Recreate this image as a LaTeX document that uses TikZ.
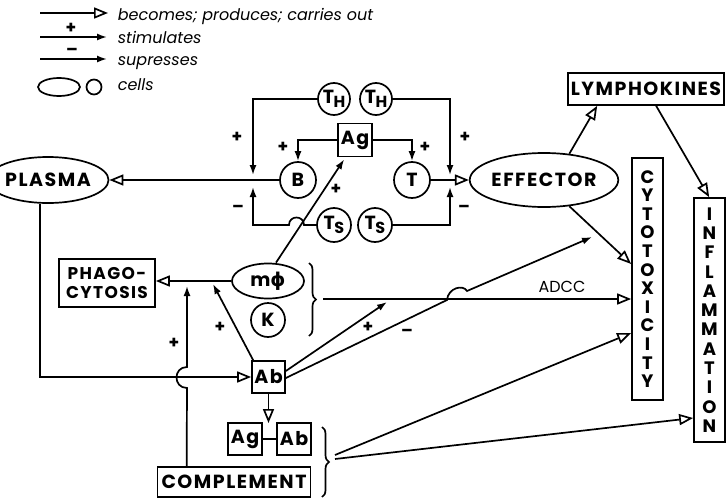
\documentclass[tikz,border=0pt]{standalone}
\usepackage{fontspec}
\setmainfont{Poppins}
\newfontfamily\lblf{Poppins}[LetterSpace=8]
\newfontfamily\dejavu{DejaVu Sans}
\usetikzlibrary{arrows.meta,shapes.geometric,decorations.pathreplacing,calc}
\newcommand{\subT}[1]{T\kern-0.5pt\raisebox{-4pt}{\fontsize{16}{16}\selectfont #1}}
\begin{document}
\begin{tikzpicture}[x=1pt,y=-1pt,
  line width=1.7pt,
  lbl/.style={font=\lblf\fontsize{19}{19}\selectfont\bfseries, inner sep=0pt},
  cellc/.style={draw, circle, lbl, minimum size=#1},
  celle/.style={draw, ellipse, lbl},
  boxn/.style={draw, rectangle, lbl},
  prod/.style={-{Triangle[open,length=14pt,width=11pt]}},
  stim/.style={-{Latex[length=10pt,width=7pt]}},
  sign/.style={font=\fontsize{17}{17}\selectfont\bfseries, inner sep=0pt},
  legtxt/.style={font=\fontsize{16}{16}\selectfont\itshape, anchor=base west, inner sep=0pt},
  brc/.style={decorate, decoration={brace, amplitude=7pt}},
]
\useasboundingbox (0,0) rectangle (726,498);

% legend
\coordinate (l1a) at (40,13); \coordinate (l1b) at (108,13);
\draw[prod] (l1a) -- (l1b);
\node[legtxt] (l1t) at (117,20) {becomes; produces; carries out};
\node[sign] (l2s) at (71,28) {+};
\coordinate (l2a) at (40,37); \coordinate (l2b) at (107,37);
\draw[stim] (l2a) -- (l2b);
\node[legtxt] (l2t) at (117,43) {stimulates};
\node[sign] (l3s) at (72,52) {–};
\coordinate (l3a) at (40,59); \coordinate (l3b) at (107,59);
\draw[stim] (l3a) -- (l3b);
\node[legtxt] (l3t) at (117,65) {supresses};
\node[draw, ellipse, minimum width=42, minimum height=18, inner sep=0pt] (l4e) at (59,87) {};
\node[draw, circle, minimum size=15, inner sep=0pt] (l4c) at (94,87) {};
\node[legtxt] (l4t) at (117,90) {cells};

% cells and boxes
\node[cellc=32] (th1) at (334,99) {\subT{H}};
\node[cellc=32] (th2) at (376,99) {\subT{H}};
\node[boxn, minimum width=34, minimum height=33] (ag) at (355,140) {Ag};
\node[cellc=36] (b) at (298,180) {B};
\node[cellc=36] (t) at (412,180) {T};
\node[cellc=34] (ts1) at (334,225) {\subT{S}};
\node[cellc=34] (ts2) at (375,225) {\subT{S}};
\node[celle, minimum width=88, minimum height=46] (plasma) at (48,180) {PLASMA};
\node[celle, minimum width=110, minimum height=54] (eff) at (544,180) {EFFECTOR};
\node[celle, minimum width=72, minimum height=35] (mphi) at (268,281) {m{\dejavu\bfseries ϕ}};
\node[cellc=34] (k) at (268,320) {K};
\node[boxn, minimum width=96, minimum height=48, align=center, font=\lblf\fontsize{17}{19}\selectfont\bfseries] (phago) at (107,283) {PHAGO-\\CYTOSIS};
\node[boxn, minimum width=33, minimum height=32] (ab) at (268.5,377) {Ab};
\node[boxn, minimum width=34, minimum height=32] (ag2) at (245,439) {Ag};
\node[boxn, minimum width=34, minimum height=32] (ab2) at (294,439) {Ab};
\node[boxn, minimum width=153, minimum height=30] (compl) at (234,482) {COMPLEMENT};
\node[boxn, minimum width=156, minimum height=32] (lymph) at (646,89) {LYMPHOKINES};
\node[boxn, minimum width=31, minimum height=242, align=center, font=\fontsize{18}{18.6}\selectfont\bfseries] (cyto) at (647.5,279) {C\\Y\\T\\O\\T\\O\\X\\I\\C\\I\\T\\Y};
\node[boxn, minimum width=31, minimum height=244, align=center, font=\fontsize{18}{19.3}\selectfont\bfseries] (infl) at (709.5,320) {I\\N\\F\\L\\A\\M\\M\\A\\T\\I\\O\\N};

% T-helper and T-suppressor loops
\coordinate (jl) at (253,180);
\coordinate (jr) at (450,180);
\draw[stim] (th1.west) -| ([yshift=5pt]jl);
\draw[stim] (th2.east) -| ([yshift=5pt]jr);
\draw[stim] (ts2.east) -| ([yshift=-7pt]jr);
\coordinate (hopA) at (304,225);
\coordinate (hopB) at (289,225);
\draw[stim] (ts1.west) -- (hopA) .. controls (304,215) and (289,215) .. (hopB) -- (jl |- ts1.west) -- ([yshift=-7pt]jl);
\draw[stim] (ag.west) -| (b.north);
\draw[stim] (ag.east) -| (t.north);
\draw[stim] ([xshift=8pt]mphi.north) -- ([xshift=7pt,yshift=-2pt]ag.south west);

\draw[prod] (b.west) -- (plasma.east);
\draw[prod] (t.east) -- (eff.west);
\draw[prod] ([xshift=-8pt]plasma.south) |- (ab.west);
\draw[prod] (mphi.west) -- (phago.east |- mphi.west);

% complement to phagocytosis
\coordinate (cv1) at (187,388);
\coordinate (cv2) at (187,367);
\coordinate (cvtip) at (187,286);
\draw[stim] ([xshift=30pt]compl.north west) -- (cv1) .. controls (173,388) and (173,367) .. (cv2) -- (cvtip);
\coordinate (abph) at (213,284);
\draw[stim] ([xshift=2pt]ab.north west) -- (abph);

% antibody lines
\coordinate (abplus) at (387,302);
\draw[stim] ([yshift=6pt]ab.east) -- (abplus);
\coordinate (hopC) at (447,300);
\coordinate (hopD) at (467,291);
\coordinate (abminus) at (592,237);
\draw[stim] ([yshift=-1pt]ab.east) -- (hopC) .. controls (448,288) and (463,284) .. (hopD) -- (abminus);

\coordinate (agabtop) at (268.5,423);
\draw[prod] (ab.south) -- (agabtop);
\draw (ag2.east) -- (ab2.west);

% braces
\draw[brc] (309,263) -- (309,336);
\coordinate (adcc0) at (323,299);
\draw[prod] (adcc0) -- (cyto.west |- adcc0);
\node[font=\fontsize{16}{16}\selectfont, inner sep=0pt] (adccl) at (562,287) {ADCC};
\draw[brc] (322,427) -- (322,497);
\coordinate (br2a) at (335,455);
\coordinate (br2b) at (335,459);
\draw[prod] (br2a) -- ($(cyto.west)+(0,54)$);
\draw[prod] (br2b) -- ($(infl.west)+(0,98)$);

% effector outputs
\draw[prod] (eff.46) -- ([xshift=30pt]lymph.south west);
\draw[prod] (eff.-46) -- ($(cyto.west)+(0,-15)$);
\draw[prod] ([xshift=89pt]lymph.south west) -- ([xshift=16pt]infl.north west);

% signs
\node[sign] (s1) at (237,137) {+};
\node[sign] (s2) at (465,137) {+};
\node[sign] (s3) at (283,147) {+};
\node[sign] (s4) at (425,147) {+};
\node[sign] (s5) at (238,209) {–};
\node[sign] (s6) at (464,209) {–};
\node[sign] (s7) at (336,189) {+};
\node[sign] (s8) at (174,343) {+};
\node[sign] (s9) at (220,327) {+};
\node[sign] (s10) at (368,327) {+};
\node[sign] (s11) at (407,333) {–};
\end{tikzpicture}
\end{document}
